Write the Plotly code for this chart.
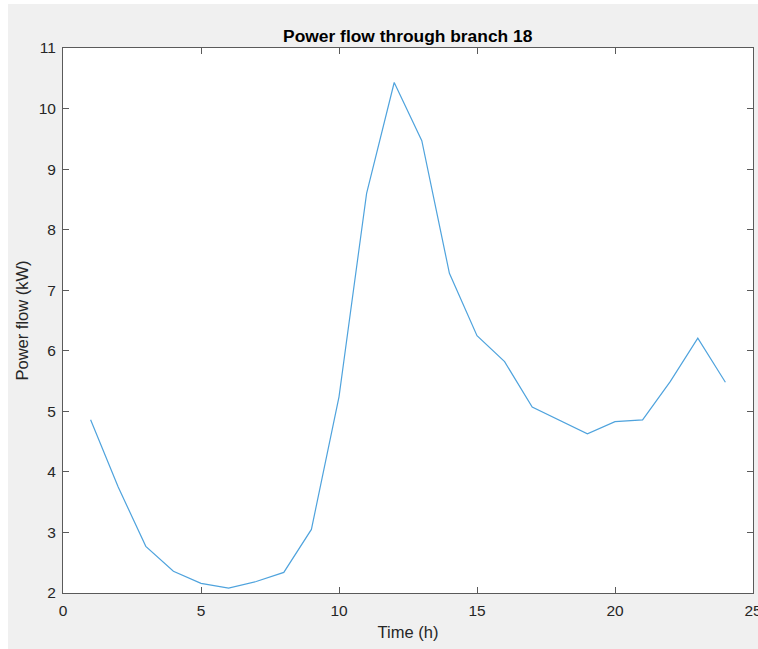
"""Power flow through branch 18, MATLAB-style line chart (plotly)."""

import plotly.graph_objects as go

hours = list(range(1, 25))
power_kw = [4.86, 3.75, 2.77, 2.36, 2.16, 2.08, 2.19, 2.34, 3.05, 5.24,
            8.60, 10.43, 9.47, 7.28, 6.25, 5.82, 5.07, 4.85, 4.63, 4.83,
            4.86, 5.49, 6.21, 5.48]

x_ticks = [0, 5, 10, 15, 20, 25]
y_ticks = [2, 3, 4, 5, 6, 7, 8, 9, 10, 11]

font = "Liberation Sans, Arial, Helvetica, sans-serif"
axis_col = "#5a5a5a"
text_col = "#262626"

fig = go.Figure()
fig.add_trace(go.Scatter(x=hours, y=power_kw, mode="lines",
                         line=dict(color="#4fa3dd", width=1.2),
                         showlegend=False, hoverinfo="x+y"))

axis_common = dict(
    showgrid=False, zeroline=False, showline=True, linecolor=axis_col,
    linewidth=1, mirror="ticks", ticks="inside", ticklen=6,
    tickcolor=axis_col, tickwidth=1, automargin=False,
    ticklabelstandoff=3, ticklabeloverflow="allow",
    tickfont=dict(family=font, size=15.5, color=text_col),
)

fig.update_xaxes(range=[0, 25], tickvals=x_ticks,
                 title=dict(text="Time (h)", standoff=8,
                            font=dict(family=font, size=16.5, color=text_col)),
                 **axis_common)
fig.update_yaxes(range=[2, 11], tickvals=y_ticks,
                 title=dict(text="Power flow (kW)", standoff=5,
                            font=dict(family=font, size=16.5, color=text_col)),
                 **axis_common)

# figure sits 8px in from the left and 4px down, like the screenshot
fig.update_layout(
    width=750, height=645,
    margin=dict(l=55, r=5, t=44, b=56),
    paper_bgcolor="#f0f0f0", plot_bgcolor="white",
    title=dict(text="<b>Power flow through branch 18</b>", x=0.533,
               xanchor="center", y=1 - 31.7 / 645, yanchor="middle",
               font=dict(family=font, size=17.4, color="black")),
)

fig.write_html("out.html",
               post_script="document.body.style.margin='4px 0 0 8px';"
                           "document.body.style.overflow='hidden';")
